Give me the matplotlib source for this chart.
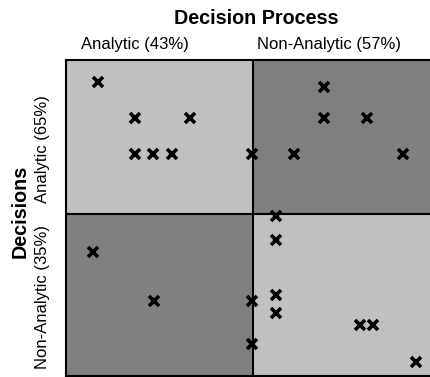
import matplotlib
matplotlib.use("Agg")
import matplotlib.pyplot as plt
from matplotlib.patches import Rectangle

plt.rcParams['font.family'] = ['Liberation Sans', 'DejaVu Sans']

# Data (scores on 0-100 scales)
x_vals = [8.8, 18.9, 34.0, 18.9, 23.8, 29.0, 51.0, 70.7, 70.7, 82.5, 62.5, 92.3,
          57.5, 7.4, 24.1, 51.0, 51.0, 57.5, 57.5, 57.5, 80.5, 84.1, 95.9]
y_vals = [93.0, 81.6, 81.6, 70.3, 70.3, 70.3, 70.3, 91.5, 81.6, 81.6, 70.3, 70.3,
          50.7, 39.2, 23.7, 23.7, 10.1, 43.0, 25.6, 19.9, 16.1, 16.1, 4.4]
x_split = 51.2
y_split = 51.3

title_top = "Decision Process"
col_labels = ["Analytic (43%)", "Non-Analytic (57%)"]
title_left = "Decisions"
row_labels = ["Analytic (65%)", "Non-Analytic (35%)"]

W, H = 431, 377
fig = plt.figure(figsize=(W / 100, H / 100), dpi=100)
L, T, R, B = 66, 60, 433, 376
ax = fig.add_axes([L / W, 1 - B / H, (R - L) / W, (B - T) / H])
ax.set_xlim(0, 100 * (R - L) / (431 - 66))
ax.set_ylim(0, 100)

light = "#C0C0C0"
dark = "#808080"
xmax = ax.get_xlim()[1]
ax.add_patch(Rectangle((0, y_split), x_split, 100 - y_split, facecolor=light, edgecolor='none', zorder=0))
ax.add_patch(Rectangle((x_split, y_split), xmax - x_split, 100 - y_split, facecolor=dark, edgecolor='none', zorder=0))
ax.add_patch(Rectangle((0, 0), x_split, y_split, facecolor=dark, edgecolor='none', zorder=0))
ax.add_patch(Rectangle((x_split, 0), xmax - x_split, y_split, facecolor=light, edgecolor='none', zorder=0))

ax.axvline(x_split, color='black', lw=1.5, zorder=1)
ax.axhline(y_split, color='black', lw=1.5, zorder=1)

ax.plot(x_vals, y_vals, linestyle='none', marker='x', markersize=7.5,
        markeredgewidth=2.6, color='black', zorder=3)

for s in ['left', 'top', 'bottom']:
    ax.spines[s].set_linewidth(1.5)
ax.spines['right'].set_visible(False)
ax.set_xticks([])
ax.set_yticks([])

def fx(px):
    return px / W

def fy(py):
    return 1 - py / H

fig.text(fx(256), fy(18.5), title_top, ha='center', va='center', fontsize=14.2, fontweight='bold')
fig.text(fx(134.5), fy(45), col_labels[0], ha='center', va='center', fontsize=12)
fig.text(fx(329), fy(45), col_labels[1], ha='center', va='center', fontsize=12)
fig.text(fx(20), fy(211), title_left, ha='center', va='center', fontsize=14.2, fontweight='bold', rotation=90)
fig.text(fx(43), fy(149), row_labels[0], ha='center', va='center', fontsize=12, rotation=90)
fig.text(fx(43), fy(297), row_labels[1], ha='center', va='center', fontsize=12, rotation=90)

fig.savefig("out.png", dpi=100)
